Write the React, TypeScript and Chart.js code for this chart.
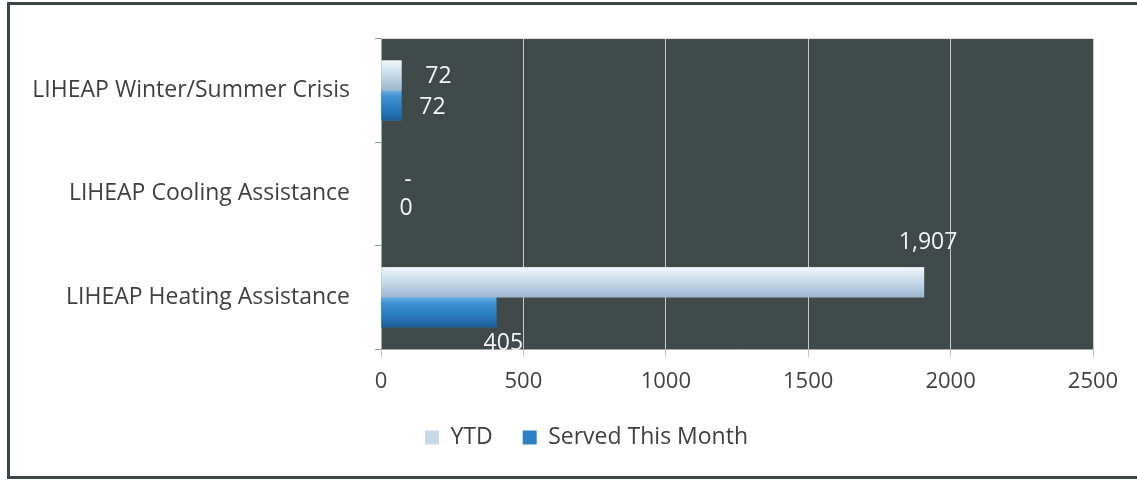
import React, { useEffect, useRef } from "react";
import { Chart, registerables } from "chart.js";

Chart.register(...registerables);

const categories = [
  "LIHEAP Winter/Summer Crisis",
  "LIHEAP Cooling Assistance",
  "LIHEAP Heating Assistance",
];
const seriesNames = ["YTD", "Served This Month"];
const ytdValues = [72, 0, 1907];
const servedValues = [72, 0, 405];
const ytdLabelText = ["72", "-", "1,907"];
const servedLabelText = ["72", "0", "405"];
const xTickValues = [0, 500, 1000, 1500, 2000, 2500];

// label offsets (dx from bar end, dy from bar centre), per series / category
const labelOffsets = [
  [[37, 1], [27, 2], [4, -40]],
  [[31, 2], [25, 0], [7, 31]],
];

const FONT = "'Open Sans', 'DejaVu Sans', sans-serif";

const gradientStops = [
  [
    [0, "#f7fafd"],
    [0.18, "#e0ebf4"],
    [0.55, "#c0d5e6"],
    [1, "#9ab8d0"],
  ],
  [
    [0, "#6aaee3"],
    [0.2, "#3f92d2"],
    [0.6, "#2a7cc0"],
    [1, "#1b5d98"],
  ],
];

const plotBg = {
  id: "plotBg",
  beforeDraw(chart: any) {
    const { ctx, chartArea: a } = chart;
    ctx.save();
    ctx.fillStyle = "#414a4a";
    ctx.fillRect(a.left, a.top, a.right - a.left, a.bottom - a.top);
    ctx.restore();
  },
};

const legendShift = {
  id: "legendShift",
  afterLayout(chart: any) {
    if (chart.legend) {
      chart.legend.left += 40;
      chart.legend.right += 40;
    }
  },
};

const barShading = {
  id: "barShading",
  afterDatasetDraw(chart: any, args: any) {
    const { ctx } = chart;
    const stops = gradientStops[args.index];
    ctx.save();
    args.meta.data.forEach((el: any) => {
      const { x, y, base, height } = el.getProps(["x", "y", "base", "height"], true);
      const w = Math.abs(x - base);
      if (w < 0.5) return;
      const top = y - height / 2;
      const g = ctx.createLinearGradient(0, top, 0, top + height);
      stops.forEach(([o, c]: any) => g.addColorStop(o, c));
      ctx.fillStyle = g;
      ctx.fillRect(Math.min(x, base), top, w, height);
    });
    ctx.restore();
  },
};

const dataLabels = {
  id: "dataLabels",
  afterDatasetsDraw(chart: any) {
    const { ctx } = chart;
    const texts = [ytdLabelText, servedLabelText];
    ctx.save();
    ctx.font = `23px ${FONT}`;
    ctx.fillStyle = "#f4f4f4";
    ctx.textAlign = "center";
    ctx.textBaseline = "middle";
    texts.forEach((arr, i) => {
      const meta = chart.getDatasetMeta(i);
      meta.data.forEach((el: any, j: number) => {
        const [dx, dy] = labelOffsets[i][j];
        ctx.fillText(arr[j], el.x + dx, el.y + dy);
      });
    });
    ctx.restore();
  },
};

export default function App() {
  const ref = useRef<HTMLCanvasElement | null>(null);

  useEffect(() => {
    if (!ref.current) return;
    Chart.defaults.font.family = FONT;
    const chart = new Chart(ref.current, {
      type: "bar",
      data: {
        labels: categories,
        datasets: [
          {
            label: seriesNames[0],
            data: ytdValues,
            backgroundColor: "#c6d9e8",
            categoryPercentage: 0.58,
            barPercentage: 1,
          },
          {
            label: seriesNames[1],
            data: servedValues,
            backgroundColor: "#2e80c3",
            categoryPercentage: 0.58,
            barPercentage: 1,
          },
        ],
      },
      options: {
        indexAxis: "y",
        responsive: false,
        animation: false,
        devicePixelRatio: 1,
        layout: { padding: { top: 35, right: 44, left: 0, bottom: 22 } },
        scales: {
          x: {
            min: 0,
            max: 2500,
            afterBuildTicks: (s: any) => {
              s.ticks = xTickValues.map((v) => ({ value: v }));
            },
            afterFit: (s: any) => {
              s.height = 47;
            },
            grid: { color: "#c3c8cb", tickLength: 8 },
            border: { display: true, color: "#a0a6aa" },
            ticks: {
              color: "#404040",
              font: { size: 22 },
              padding: 12,
              callback: (v: any) => String(v),
            },
          },
          y: {
            afterFit: (s: any) => {
              s.width = 381;
            },
            grid: { drawOnChartArea: false, offset: true, tickLength: 6, color: "#8f969a" },
            border: { color: "#a0a6aa" },
            ticks: { color: "#404040", font: { size: 23 }, padding: 25 },
          },
        },
        plugins: {
          legend: {
            position: "bottom",
            labels: {
              boxWidth: 14,
              boxHeight: 14,
              padding: 30,
              color: "#404040",
              font: { size: 23 },
            },
          },
          tooltip: { enabled: false },
        },
      },
      plugins: [plotBg, legendShift, barShading, dataLabels],
    } as any);
    return () => chart.destroy();
  }, []);

  return (
    <div style={{ position: "fixed", left: 0, top: 0, width: 1137, height: 481, overflow: "hidden", background: "#ffffff" }}>
      <div
        style={{
          position: "absolute",
          left: 7,
          top: 2,
          width: 1140,
          height: 471,
          border: "3px solid #3b4746",
        }}
      />
      <canvas ref={ref} width={1137} height={481} style={{ position: "absolute", left: 0, top: 0 }} />
    </div>
  );
}
